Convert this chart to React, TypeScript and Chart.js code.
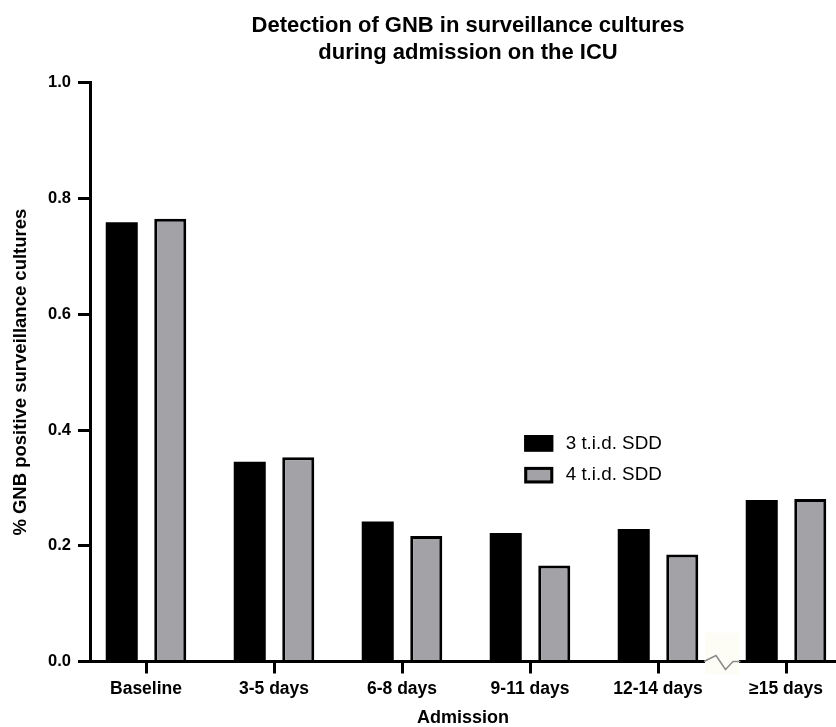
import React, { useEffect, useRef } from "react";
import { Chart, registerables } from "chart.js";

Chart.register(...registerables);

const categories = ["Baseline", "3-5 days", "6-8 days", "9-11 days", "12-14 days", "≥15 days"];
const seriesNames = ["3 t.i.d. SDD", "4 t.i.d. SDD"];
const sdd3 = [0.759, 0.345, 0.242, 0.222, 0.229, 0.279];
const sdd4 = [0.765, 0.353, 0.217, 0.166, 0.185, 0.281];
const yTicks = [0, 0.2, 0.4, 0.6, 0.8, 1.0];
const titleLines = ["Detection of GNB in surveillance cultures", "during admission on the ICU"];
const xTitle = "Admission";
const yTitle = "% GNB positive surveillance cultures";
const breakAt = 4.5;
const legendAt = { x: 2.955, y: [0.377, 0.322] };

const FONT = '"Liberation Sans", Arial, Helvetica, sans-serif';
const BLACK = "#000000";
const GRAY = "#a2a2a7";
const seriesColors = [BLACK, GRAY];

const decorPlugin = {
  id: "decor",
  afterLayout(chart: any) {
    const t = chart.titleBlock;
    if (t) {
      t.left += 5;
      t.right += 5;
    }
  },
  afterDraw(chart: any) {
    const ctx = chart.ctx;
    const xs = chart.scales.x;
    const ys = chart.scales.y;
    ctx.save();
    // axis break mark
    const cx = xs.getPixelForValue(breakAt);
    const ay = ys.getPixelForValue(0);
    ctx.fillStyle = "#fdfdf6";
    ctx.fillRect(cx - 17, ay - 29, 34, 42);
    ctx.strokeStyle = "#8a8a8a";
    ctx.lineWidth = 1.5;
    ctx.beginPath();
    ctx.moveTo(cx - 18, ay);
    ctx.lineTo(cx - 6, ay - 6);
    ctx.lineTo(cx + 3.5, ay + 8);
    ctx.lineTo(cx + 11, ay);
    ctx.lineTo(cx + 18.5, ay);
    ctx.stroke();

    // legend
    const lx = xs.getPixelForValue(legendAt.x);
    ctx.font = `18.8px ${FONT}`;
    ctx.textBaseline = "middle";
    ctx.textAlign = "left";
    seriesNames.forEach((name, i) => {
      const cy = ys.getPixelForValue(legendAt.y[i]);
      const w = 29;
      const h = 16.5;
      ctx.fillStyle = seriesColors[i];
      ctx.fillRect(lx, cy - h / 2, w, h);
      ctx.strokeStyle = BLACK;
      ctx.lineWidth = 3;
      ctx.strokeRect(lx + 1.5, cy - h / 2 + 1.5, w - 3, h - 3);
      ctx.fillStyle = BLACK;
      ctx.fillText(name, lx + 41.5, cy);
    });
    ctx.restore();
  },
};

export default function App() {
  const ref = useRef<HTMLCanvasElement | null>(null);

  useEffect(() => {
    if (!ref.current) return;
    const tickGrid = {
      display: true,
      offset: false,
      drawOnChartArea: false,
      drawTicks: true,
      tickLength: 12,
      tickWidth: 3,
      tickColor: BLACK,
      color: BLACK,
      lineWidth: 3,
    };
    const chart = new Chart(ref.current, {
      type: "bar",
      data: {
        datasets: [
          {
            label: seriesNames[0],
            data: categories.map((_, i) => ({ x: i, y: sdd3[i] })),
            backgroundColor: seriesColors[0],
            borderColor: BLACK,
            borderWidth: 0,
            categoryPercentage: 0.758,
            barPercentage: 0.66,
          },
          {
            label: seriesNames[1],
            data: categories.map((_, i) => ({ x: i, y: sdd4[i] })),
            backgroundColor: seriesColors[1],
            borderColor: BLACK,
            borderWidth: 3,
            categoryPercentage: 0.758,
            barPercentage: 0.66,
          },
        ],
      } as any,
      options: {
        animation: false,
        responsive: false,
        devicePixelRatio: 1,
        layout: { padding: 0 },
        plugins: {
          legend: { display: false },
          tooltip: { enabled: false },
          title: {
            display: true,
            text: titleLines,
            fullSize: false,
            color: BLACK,
            font: { family: FONT, size: 22, weight: "bold", lineHeight: 1.2 },
            padding: { top: 13, bottom: 17 },
          },
        },
        scales: {
          x: {
            type: "linear",
            min: -0.4375,
            max: 5.3906,
            offset: false,
            z: 1,
            afterBuildTicks: (s: any) => {
              s.ticks = categories.map((_, i) => ({ value: i }));
            },
            afterFit: (s: any) => {
              s.height = 65.5;
            },
            grid: tickGrid,
            border: { display: true, color: BLACK, width: 3 },
            ticks: {
              autoSkip: false,
              maxRotation: 0,
              minRotation: 0,
              padding: 5,
              color: BLACK,
              font: { family: FONT, size: 17.5, weight: "bold" },
              callback: (v: any) => categories[Math.round(Number(v))],
            },
            title: {
              display: true,
              text: xTitle,
              color: BLACK,
              font: { family: FONT, size: 18, weight: "bold", lineHeight: 1 },
              padding: { top: 0, bottom: 0 },
            },
          },
          y: {
            type: "linear",
            min: 0,
            max: 1,
            z: 1,
            afterBuildTicks: (s: any) => {
              s.ticks = yTicks.map((v) => ({ value: v }));
            },
            afterFit: (s: any) => {
              s.width = 90;
            },
            grid: tickGrid,
            border: { display: true, color: BLACK, width: 3 },
            ticks: {
              padding: 7,
              color: BLACK,
              font: { family: FONT, size: 16.5, weight: "bold" },
              callback: (v: any) => Number(v).toFixed(1),
            },
            title: {
              display: true,
              text: yTitle,
              color: BLACK,
              font: { family: FONT, size: 18.5, weight: "bold", lineHeight: 1 },
              padding: { top: 12, bottom: 0 },
            },
          },
        },
      } as any,
      plugins: [decorPlugin as any],
    });
    return () => chart.destroy();
  }, []);

  return (
    <div style={{ position: "absolute", left: 0, top: 0, width: 836, height: 727, background: "#fff" }}>
      <canvas ref={ref} width={836} height={727} style={{ display: "block", width: 836, height: 727 }} />
    </div>
  );
}
